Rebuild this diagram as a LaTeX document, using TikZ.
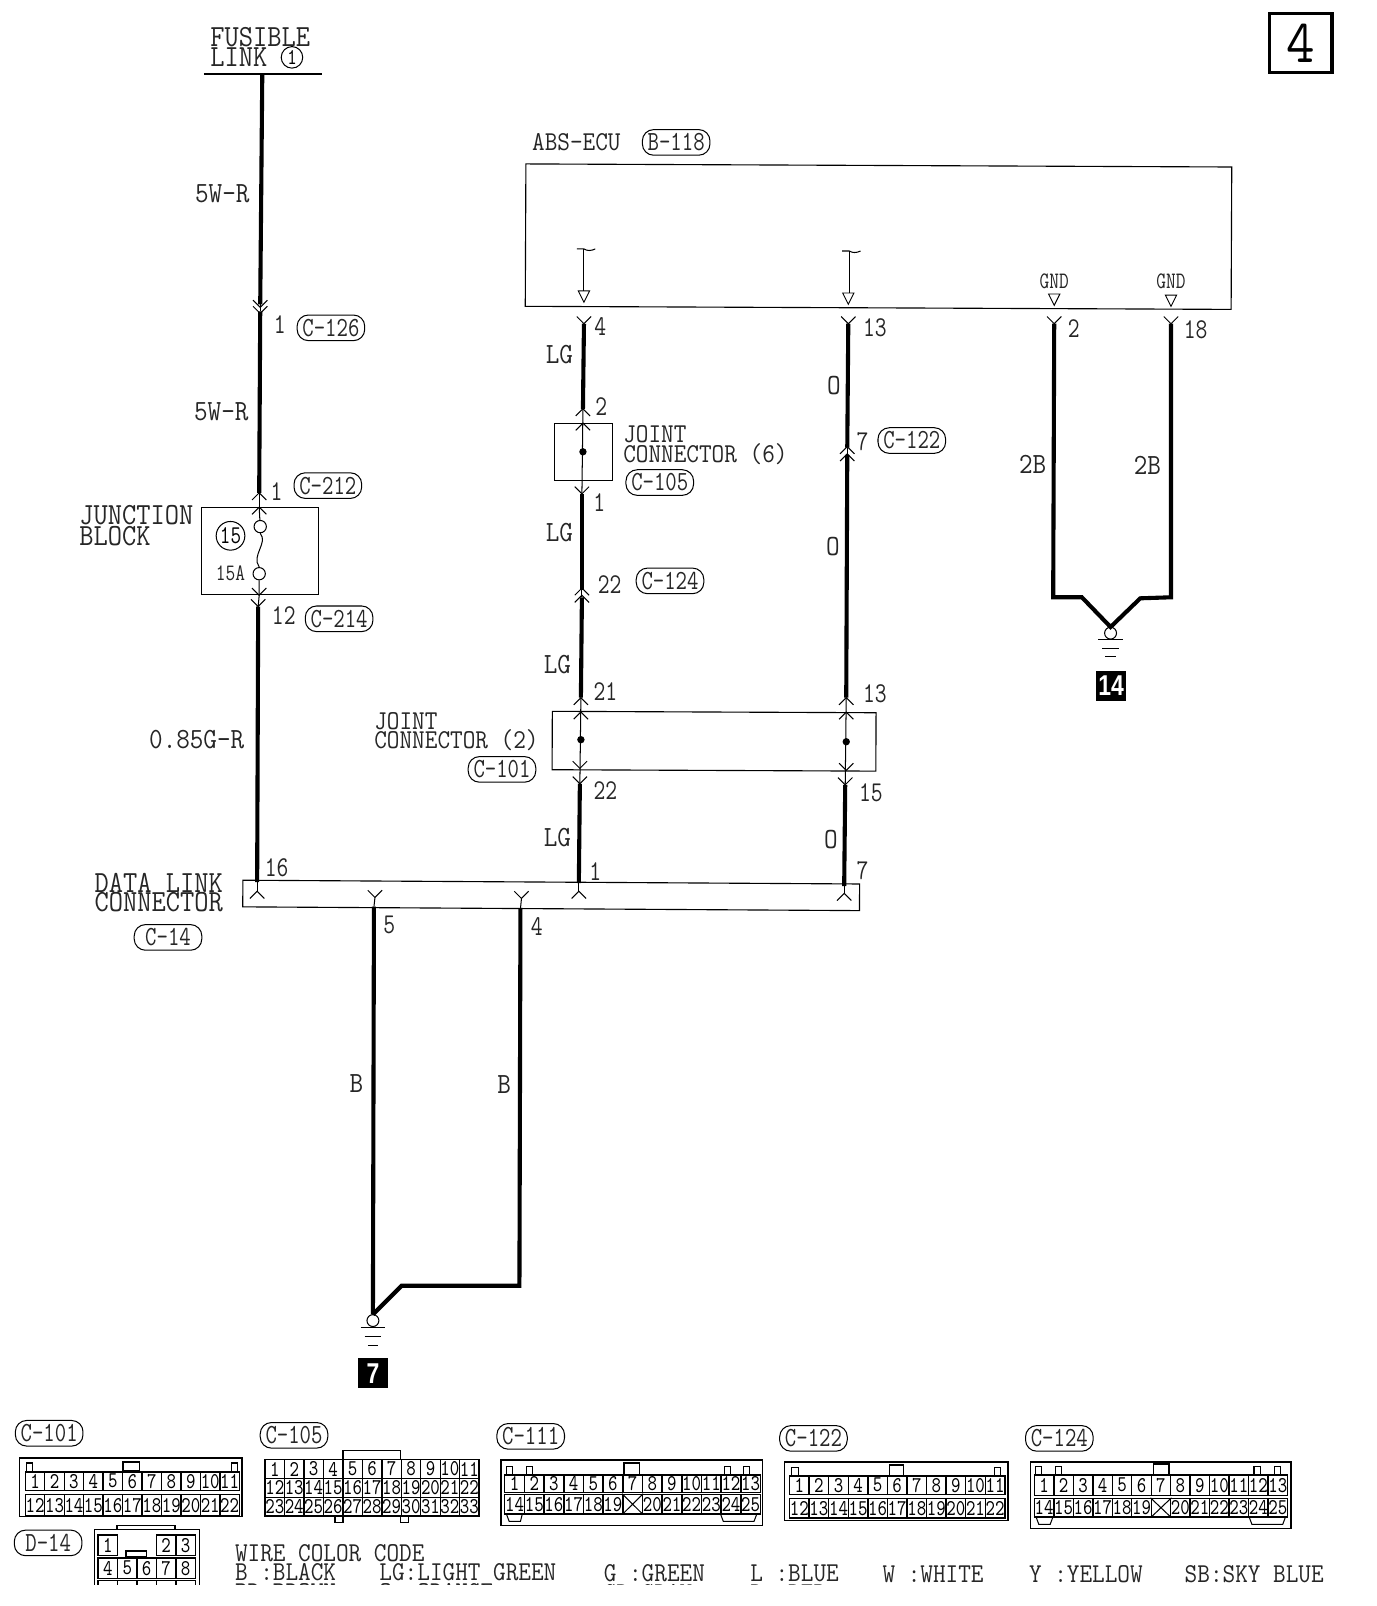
\documentclass[tikz,border=0pt]{standalone}
\usepackage{fontspec}
\newfontfamily\cad[FakeStretch=0.9]{Latin Modern Mono}
\newfontfamily\cadn[FakeStretch=0.8]{Latin Modern Mono}
\newfontfamily\blk[FakeStretch=0.8]{Liberation Sans Bold}
\newcommand\fnt[2]{\cad\fontsize{#1}{#2}\selectfont}
\newcommand\fnn[2]{\cadn\fontsize{#1}{#2}\selectfont}
\tikzset{
  lab/.style={inner sep=0pt,font=\fnt{14.3}{9.5},text=black!85,align=left},
  labwide/.style={inner sep=0pt,font=\fnt{15}{9.5},text=black!85,align=left},
  labnar/.style={inner sep=0pt,font=\fnt{13.3}{9.5},text=black!85,align=left},
  numl/.style={inner sep=0pt,font=\fnn{14}{14},text=black!85},
  gndl/.style={inner sep=0pt,font=\fnn{11.5}{10},text=black!85},
  pill/.style={draw,line width=.5pt,rounded corners=5.5pt,minimum width=33pt,minimum height=12.5pt,inner sep=0pt,font=\fnn{13.5}{12},text=black!85},
  wire/.style={line width=2pt,line join=miter},
  thinw/.style={line width=.5pt},
  boxn/.style={draw,line width=.55pt,inner sep=0pt},
  pinc/.style={draw,line width=.7pt,inner sep=0pt,anchor=north west,font=\fnn{11}{10}},
  shell/.style={line width=.7pt},
  tri/.style={draw,line width=.45pt},
  blackn/.style={fill=black,inner sep=0pt,minimum width=15pt,minimum height=14.5pt,text=white,font=\blk\fontsize{14}{14}\selectfont}
}
\newcommand\chu[1]{\draw[thinw] (#1) ++(-7,7) -- (#1) -- ++(7,7);}
\newcommand\chd[1]{\draw[thinw] (#1) ++(-7,-7) -- (#1) -- ++(7,-7);}
\newcommand\downtri[2]{\draw[tri] (#1,#2) -- ++(-5.5,0) -- ++(5.5,11) -- ++(5.5,-11) -- cycle;}
% prefix, x0, ytop, cell width, cell height, labels
\newcommand\pinrow[6]{\foreach \t [count=\i] in {#6}{
  \node[pinc,name=#1-\i,minimum width=#4*.5pt,minimum height=#5*.5pt] at ({#2+(\i-1)*#4},#3) {\t};}}
\begin{document}
\begin{tikzpicture}[x=.5pt,y=-.5pt]
\useasboundingbox (0,0) rectangle (1343.1,1567.6);
\fill[white] (0,0) rectangle (1343.1,1567.6);

% page tag
\node[draw,line width=1.6pt,minimum width=30.5pt,minimum height=29pt,inner sep=0pt,font=\fnt{30}{30}] (tag) at (1269.5,42) {4};

% ---------- wire ends
\coordinate (fa) at (256,73);   \coordinate (fb) at (254,297);
\coordinate (fc) at (254,304);  \coordinate (fd) at (253,481);
\coordinate (fe) at (253,495);  \coordinate (ff) at (253,581);
\coordinate (fg) at (252,592);  \coordinate (fh) at (251,861);
\coordinate (fi) at (251,870);

\coordinate (la) at (570,316);  \coordinate (lb) at (569,399);
\coordinate (lc) at (569,413);  \coordinate (ld) at (568,482);
\coordinate (le) at (568,576);  \coordinate (lf) at (568,583);
\coordinate (lg) at (567,681);  \coordinate (lh) at (567,695);
\coordinate (li) at (566,750);  \coordinate (lj) at (566,765);
\coordinate (lk) at (565,862);  \coordinate (ll) at (565,870);

\coordinate (oa) at (828,316);  \coordinate (ob) at (827,437);
\coordinate (oc) at (827,444);  \coordinate (od) at (826,681);
\coordinate (oe) at (826,695);  \coordinate (of) at (826,752);
\coordinate (og) at (825,766);  \coordinate (oh) at (824,865);
\coordinate (oi) at (824,872);

\coordinate (ga) at (1029,316); \coordinate (gb) at (1028,583);
\coordinate (gc) at (1056,583); \coordinate (gd) at (1084,612);
\coordinate (ge) at (1113,584); \coordinate (gf) at (1143,583);
\coordinate (gg) at (1143,316);

\coordinate (ba) at (366,876);  \coordinate (bb) at (365,885);
\coordinate (bc) at (364,1283);
\coordinate (bd) at (509,877);  \coordinate (be) at (508,887);
\coordinate (bf) at (507,1255); \coordinate (bg) at (392,1255);

% ---------- boxes
\node[boxn,minimum width=344.5pt,minimum height=69.5pt,rotate=-.25] (ecu) at (857.5,231) {};
\node[boxn,minimum width=57pt,minimum height=42.5pt] (jb) at (254,537.5) {};
\node[boxn,minimum width=28.5pt,minimum height=28pt] (jc6) at (569.5,441) {};
\node[boxn,minimum width=158pt,minimum height=28.5pt,rotate=-.25] (jc2) at (697,723.5) {};
\node[boxn,minimum width=301pt,minimum height=13pt,rotate=-.35] (dlc) at (538,874) {};

% ---------- thick wires
\draw[wire] (fa) -- (fb);
\draw[wire] (fc) -- (fd);
\draw[wire] (fg) -- (fh);
\draw[wire] (la) -- (lb);
\draw[wire] (ld) -- (le);
\draw[wire] (lf) -- (lg);
\draw[wire] (lj) -- (lk);
\draw[wire] (oa) -- (ob);
\draw[wire] (oc) -- (od);
\draw[wire] (og) -- (oh);
\draw[wire] (ga) -- (gb) -- (gc) -- (gd) -- (ge) -- (gf) -- (gg);
\draw[wire] (bb) -- (bc);
\draw[wire] (be) -- (bf) -- (bg) -- (bc);

% ---------- thin through-connections
\draw[thinw] (fb) -- (fc);
\draw[thinw] (fd) -- (fe);
\draw[thinw] (fh) -- (fi);
\draw[thinw] (lb) -- (ld);
\draw[thinw] (le) -- (lf);
\draw[thinw] (lg) -- (lj);
\draw[thinw] (lk) -- (ll);
\draw[thinw] (ob) -- (oc);
\draw[thinw] (od) -- (og);
\draw[thinw] (oh) -- (oi);
\draw[thinw] (ba) -- (bb);
\draw[thinw] (bd) -- (be);

% ---------- connector marks
\chd{254,300}\chd{254,306}
\chu{fd}\chu{fe}\chd{ff}\chd{fg}
\chd{570,316}\chd{828,316}\chd{1029,316}\chd{1143,316}
\chu{lb}\chu{lc}\chd{ld}
\chu{568,574}\chu{568,581}
\chu{lg}\chu{lh}\chd{li}\chd{lj}
\chu{827,436}\chu{827,443}
\chu{od}\chu{oe}\chd{of}\chd{og}
\chu{fi}\chu{ll}\chu{oi}
\chd{ba}\chd{bd}

% ---------- fuse
\node[draw,circle,line width=.5pt,minimum size=6pt,inner sep=0pt] (fusea) at (254,514) {};
\node[draw,circle,line width=.5pt,minimum size=6pt,inner sep=0pt] (fuseb) at (253,560) {};
\draw[thinw] (fe) -- (fusea);
\draw[thinw] (fuseb) -- (ff) -- (fg);
\draw[thinw] (fusea.south) .. controls (262,530) and (245,542) .. (fuseb.north);
\node[draw,circle,line width=.5pt,minimum size=14pt,inner sep=0pt,font=\fnn{12.5}{12}] (c15) at (225,523) {15};
\node[gndl] (a15) at (225,560) {15A};

% ---------- splice dots
\node[fill=black,circle,minimum size=3.6pt,inner sep=0pt] (d6) at (569,441) {};
\node[fill=black,circle,minimum size=3.6pt,inner sep=0pt] (d2a) at (567,722) {};
\node[fill=black,circle,minimum size=3.6pt,inner sep=0pt] (d2b) at (826,724) {};

% ---------- ECU inner terminals
\coordinate (ta) at (570,243); \coordinate (tb) at (570,284);
\coordinate (tc) at (829,245); \coordinate (td) at (829,286);
\draw[thinw] (ta) -- (tb);
\draw[thinw] (tc) -- (td);
\draw[thinw] (563,243) -- (ta) .. controls (573,245) and (577,245) .. (581,243);
\draw[thinw] (822,245) -- (tc) .. controls (832,247) and (836,247) .. (840,245);
\downtri{570}{284}\downtri{828}{286}\downtri{1029}{287}\downtri{1143}{288}
\node[gndl] (gnd1) at (1029,275) {GND};
\node[gndl] (gnd2) at (1143,275) {GND};

% ---------- grounds
\node[draw,circle,line width=.5pt,minimum size=5.8pt,inner sep=0pt] (gc1) at (1084,618) {};
\draw[thinw] (1072,624) -- (1096,624) (1076,633) -- (1092,633) (1079,641) -- (1089,641);
\node[blackn] (n14) at (1084.5,669.5) {14};
\node[draw,circle,line width=.5pt,minimum size=5.8pt,inner sep=0pt] (gc2) at (364,1289) {};
\draw[thinw] (352,1296) -- (376,1296) (356,1305) -- (372,1305) (359,1313) -- (369,1313);
\node[blackn] (n7) at (364,1340.5) {7};

% ---------- labels
\node[labwide,anchor=west] (fus) at (205,46) {FUSIBLE\\LINK};
\node[draw,circle,line width=.5pt,minimum size=10.5pt,inner sep=0pt,font=\fnn{11}{11}] (fus1) at (285,56) {1};
\coordinate (ula) at (199,72); \coordinate (ulb) at (314,72);
\draw[line width=1pt] (ula) -- (ulb);
\node[lab] (w1) at (217,189) {5W-R};
\node[lab] (w2) at (216,402) {5W-R};
\node[numl] (n1a) at (273,317) {1};
\node[pill] (c126) at (323,320) {C-126};
\node[numl] (n1b) at (270,480) {1};
\node[pill] (c212) at (320,474) {C-212};
\node[labwide,anchor=west] (jbl) at (77,513) {JUNCTION\\BLOCK};
\node[numl] (n12) at (277,601) {12};
\node[pill] (c214) at (331,604) {C-214};
\node[lab] (w3) at (192,722) {0.85G-R};

\node[labnar,anchor=west] (ecul) at (519,139) {ABS-ECU};
\node[pill] (b118) at (660,139) {B-118};
\node[numl] (n4) at (586,319) {4};
\node[numl] (n13a) at (854,320) {13};
\node[numl] (n2a) at (1048,321) {2};
\node[numl] (n18) at (1167,322) {18};
\node[lab] (lg1) at (546,346) {LG};
\node[lab] (o1) at (814,376) {O};
\node[numl] (n2b) at (587,397) {2};
\node[numl] (n7a) at (842,431) {7};
\node[pill] (c122) at (890,430) {C-122};
\node[labnar,anchor=west] (j6) at (608,434.5) {JOINT\\CONNECTOR (6)};
\node[pill] (c105) at (644,471) {C-105};
\node[lab] (gb1) at (1008,453) {2B};
\node[lab] (gb2) at (1120,454) {2B};
\node[numl] (n1c) at (585,491) {1};
\node[lab] (lg2) at (546,520) {LG};
\node[lab] (o2) at (813,533) {O};
\node[numl] (n22a) at (595,571) {22};
\node[pill] (c124) at (654,567) {C-124};
\node[lab] (lg3) at (544,649) {LG};
\node[numl] (n21) at (591,675) {21};
\node[numl] (n13b) at (854,677) {13};
\node[labnar,anchor=west] (j2) at (365,714) {JOINT\\CONNECTOR (2)};
\node[pill] (c101) at (490,751) {C-101};
\node[numl] (n22b) at (591,772) {22};
\node[numl] (n15) at (850,774) {15};
\node[lab] (lg4) at (544,818) {LG};
\node[lab] (o3) at (811,819) {O};
\node[numl] (n16) at (270,847) {16};
\node[numl] (n1d) at (581,851) {1};
\node[numl] (n7b) at (842,850) {7};
\node[labwide,anchor=west] (dl) at (92,871) {DATA LINK\\CONNECTOR};
\node[pill] (c14) at (164,915) {C-14};
\node[numl] (n5) at (380,903) {5};
\node[numl] (n4b) at (524,904) {4};
\node[lab] (b1) at (348,1058) {B};
\node[lab] (b2) at (492,1059) {B};

% ---------- connector pictures
\node[pill] (p101) at (48,1399) {C-101};
\node[pill] (p105) at (287,1401) {C-105};
\node[pill] (p111) at (518,1402) {C-111};
\node[pill] (p122) at (794,1404) {C-122};
\node[pill] (p124) at (1034,1404) {C-124};
\node[pill] (p14) at (47,1506) {D-14};

% C-101
\draw[shell] (19,1423) rectangle (236,1480);
\draw[thinw] (26,1436) rectangle (32,1428) (226,1436) rectangle (232,1428);
\draw[shell] (120,1436) rectangle (136,1427);
\pinrow{ca}{24}{1436}{19}{18}{1,2,3,4,5,6,7,8,9,10,11}
\pinrow{cb}{24}{1458}{19}{21}{12,13,14,15,16,17,18,19,20,21,22}

% C-105
\draw[shell] (335,1424) -- (335,1416) -- (391,1416) -- (391,1424);
\draw[shell] (327,1479) rectangle (335,1486) (391,1479) rectangle (399,1486);
\pinrow{da}{258}{1424}{19}{18.4}{1,2,3,4,5,6,7,8,9,10,11}
\pinrow{db}{258}{1442.4}{19}{18.4}{12,13,14,15,16,17,18,19,20,21,22}
\pinrow{dc}{258}{1460.8}{19}{18.4}{23,24,25,26,27,28,29,30,31,32,33}

% C-111
\draw[shell] (489,1425) rectangle (744,1489);
\draw[thinw] (494,1439) rectangle (500,1431) (514,1439) rectangle (520,1431) (707,1439) rectangle (713,1431) (726,1439) rectangle (732,1431);
\draw[shell] (609,1439) rectangle (624,1428);
\pinrow{ea}{492}{1439}{19.2}{17}{1,2,3,4,5,6,7,8,9,10,11,12,13}
\pinrow{eb}{492}{1458}{19.2}{19}{14,15,16,17,18,19,,20,21,22,23,24,25}
\draw[thinw] (eb-7.north west) -- (eb-7.south east) (eb-7.north east) -- (eb-7.south west);
\draw[thinw] (494,1477) -- (497,1485) -- (508,1485) -- (510,1477);
\draw[thinw] (703,1477) -- (706,1485) -- (736,1485) -- (739,1477);

% C-122
\draw[shell] (766,1427) rectangle (984,1484);
\draw[thinw] (773,1440) rectangle (779,1432) (971,1440) rectangle (977,1432);
\draw[shell] (868,1440) rectangle (882,1430);
\pinrow{fa}{770}{1440}{19.1}{18}{1,2,3,4,5,6,7,8,9,10,11}
\pinrow{fb}{770}{1462}{19.1}{19}{12,13,14,15,16,17,18,19,20,21,22}

% C-124
\draw[shell] (1006,1427) rectangle (1260,1492);
\draw[thinw] (1011,1439) rectangle (1017,1431) (1030,1439) rectangle (1036,1431) (1224,1439) rectangle (1230,1431) (1244,1439) rectangle (1250,1431);
\draw[shell] (1126,1439) rectangle (1141,1429);
\pinrow{ga}{1009}{1439}{19}{20}{1,2,3,4,5,6,7,8,9,10,11,12,13}
\pinrow{gb}{1009}{1462}{19}{18}{14,15,16,17,18,19,,20,21,22,23,24,25}
\draw[thinw] (gb-7.north west) -- (gb-7.south east) (gb-7.north east) -- (gb-7.south west);
\draw[thinw] (1011,1480) -- (1014,1488) -- (1025,1488) -- (1028,1480);
\draw[thinw] (1219,1480) -- (1222,1488) -- (1252,1488) -- (1255,1480);

% D-14
\draw[shell] (92,1555) -- (92,1493) -- (195,1493) -- (195,1555);
\draw[shell] (114,1493) -- (114,1489) -- (171,1489) -- (171,1493);
\draw[shell] (123,1519) rectangle (143,1514);
\pinrow{ha}{95}{1497.5}{19}{20}{1}
\pinrow{hb}{152}{1497.5}{19}{20}{2,3}
\pinrow{hc}{95}{1520}{19}{20}{4,5,6,7,8}
\pinrow{hd}{95}{1542}{19}{20}{,,,,}

% legend
\node[labnar,anchor=west] (lega) at (229,1516) {WIRE COLOR CODE};
\node[labnar,anchor=west] (l1) at (229,1535) {B :BLACK};
\node[labnar,anchor=west] (l2) at (370,1535) {LG:LIGHT GREEN};
\node[labnar,anchor=west] (l3) at (589,1536) {G :GREEN};
\node[labnar,anchor=west] (l4) at (732,1536) {L :BLUE};
\node[labnar,anchor=west] (l5) at (861,1537) {W :WHITE};
\node[labnar,anchor=west] (l6) at (1004,1537) {Y :YELLOW};
\node[labnar,anchor=west] (l7) at (1156,1537) {SB:SKY BLUE};
\node[labnar,anchor=west] (m1) at (229,1554) {BR:BROWN};
\node[labnar,anchor=west] (m2) at (370,1554) {O :ORANGE};
\node[labnar,anchor=west] (m3) at (589,1555) {GR:GRAY};
\node[labnar,anchor=west] (m4) at (732,1555) {R :RED};
\node[labnar,anchor=west] (m5) at (861,1556) {P :PINK};
\node[labnar,anchor=west] (m6) at (1004,1556) {V :VIOLET};
\fill[white] (0,1547.5) rectangle (1343.1,1567.6);
\end{tikzpicture}
\end{document}
